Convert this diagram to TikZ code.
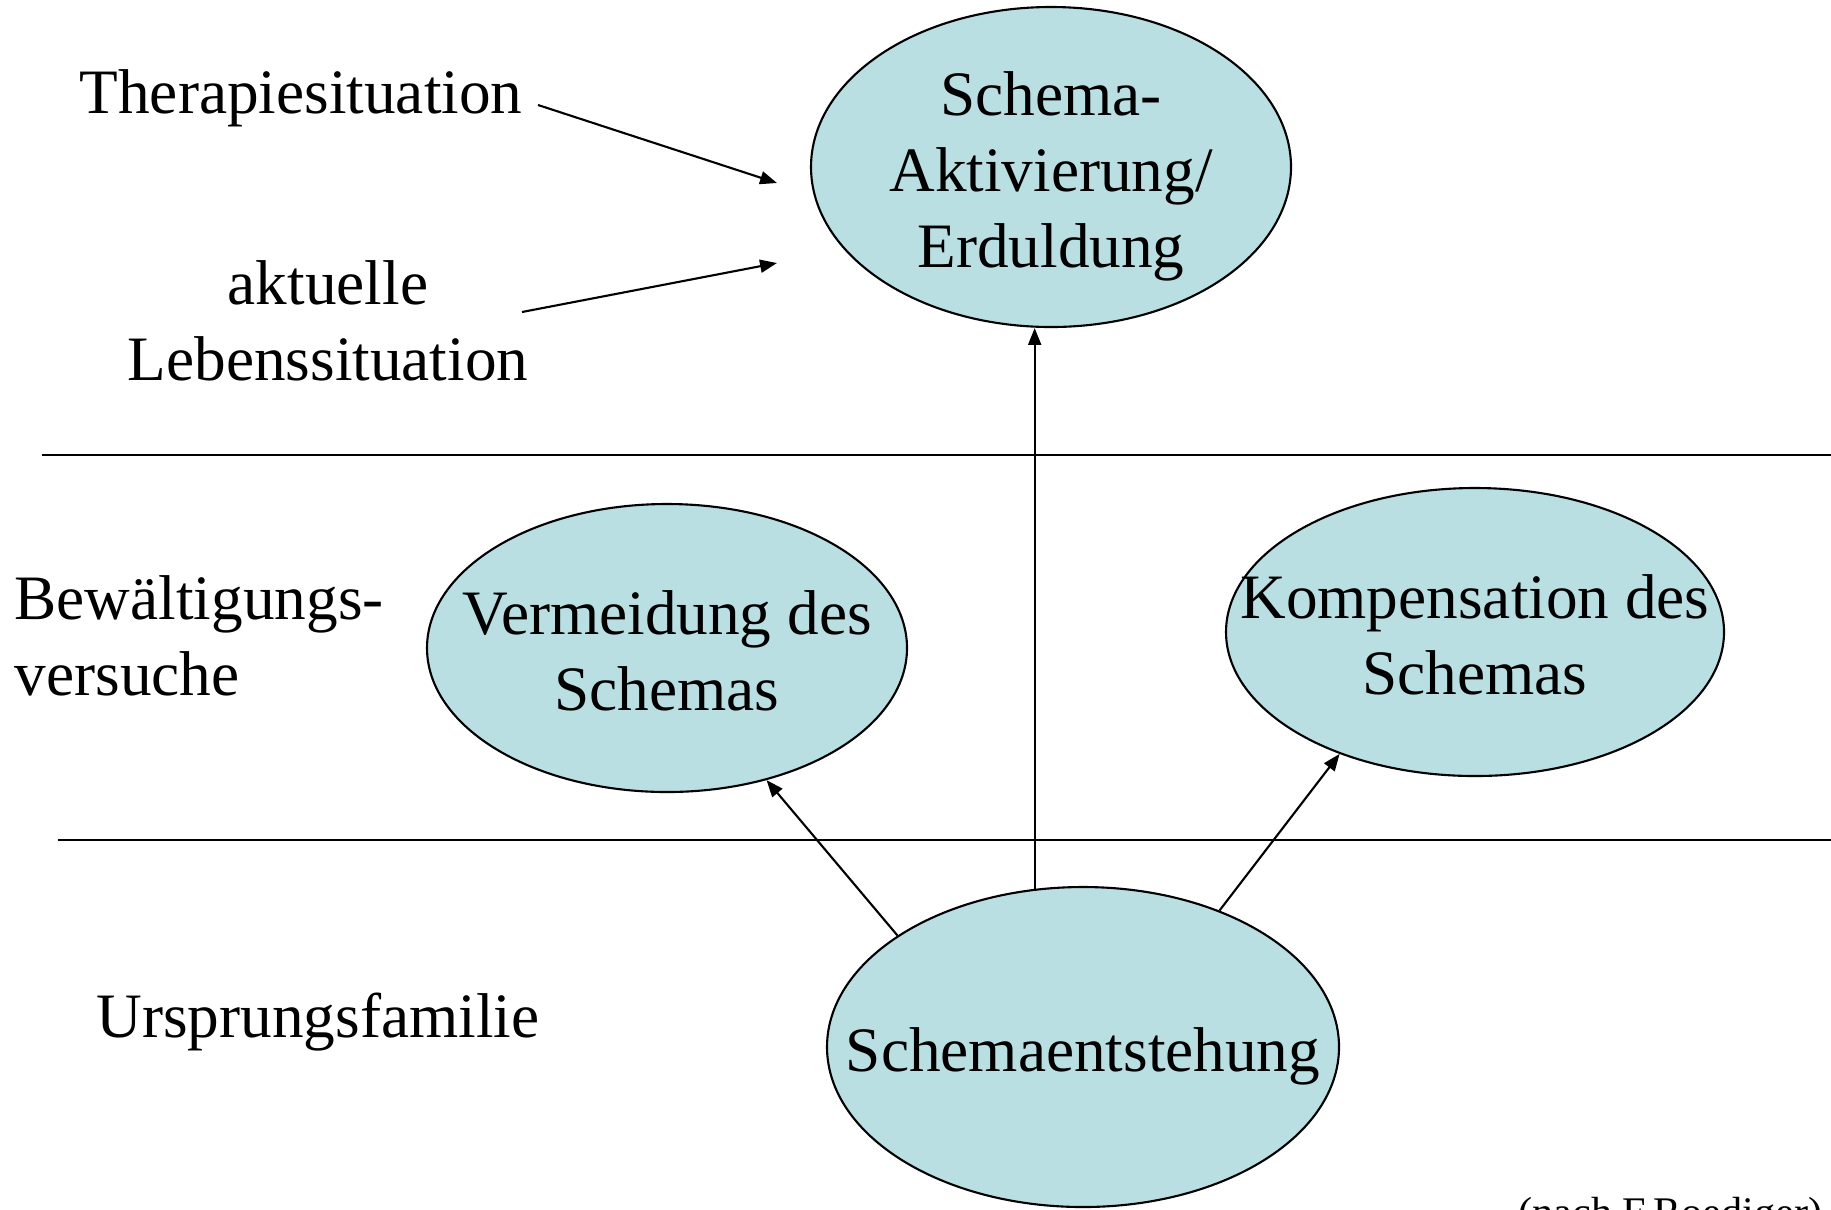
\documentclass[tikz,border=0pt]{standalone}
\usepackage{fontspec}
\setmainfont{Liberation Serif}
\usepackage{tikz}
\usetikzlibrary{shapes,arrows.meta,positioning,calc}
\definecolor{ovalfill}{RGB}{186,223,227}
\tikzset{
  oval/.style={ellipse, draw, line width=0.6pt, fill=ovalfill, inner sep=0pt},
  lbl/.style={inner sep=0pt},
  arr/.style={-{Triangle[length=4.8pt,width=3.7pt]}, line width=0.6pt},
}
\newcommand{\ovaltext}[1]{\raisebox{-7pt}[0pt][0pt]{\makebox[0pt]{\begin{tabular}{@{}c@{}}#1\end{tabular}}}}

\begin{document}
\begin{tikzpicture}[font=\fontsize{18}{21.6}\selectfont]
    \useasboundingbox (0,0) rectangle (18.31,-12.09);

    % Levels
    \draw[line width=0.6pt] (0.42,-4.55) -- (18.31,-4.55);
    \draw[line width=0.6pt] (0.58,-8.40) -- (18.31,-8.40);

    % Schemas
    \node[oval, minimum width=4.80cm, minimum height=3.20cm] (akt) at (10.51,-1.67) {\ovaltext{Schema-\\Aktivierung/\\Erduldung}};
    \node[oval, minimum width=4.80cm, minimum height=2.88cm] (verm) at (6.67,-6.48) {\ovaltext{Vermeidung des\\Schemas}};
    \node[oval, minimum width=4.98cm, minimum height=2.88cm] (komp) at (14.75,-6.32) {\ovaltext{Kompensation des\\Schemas}};
    \node[oval, minimum width=5.12cm, minimum height=3.20cm] (ent) at (10.83,-10.47) {\ovaltext{Schemaentstehung}};

    % Left labels
    \node[lbl, anchor=base] (therapie) at (3.01,-1.13) {Therapiesituation};
    \node[lbl, align=center] (leben) at (3.28,-3.21) {aktuelle\\Lebenssituation};
    \node[lbl, align=left, anchor=west] (bewaelt) at (0.14,-6.36) {Bewältigungs-\\versuche};
    \node[lbl, anchor=base] (ursprung) at (3.18,-10.37) {Ursprungsfamilie};
    \node[lbl, anchor=base west, font=\fontsize{12}{14.4}\selectfont] (quelle) at (15.18,-12.26) {(nach F.Roediger)};

    % Arrows
    \draw[arr] ($(therapie.base east)+(0.15,0.08)$) -- ($(akt.west)+(-0.33,-0.16)$);
    \draw[arr] ($(leben.east)+(-0.07,0.09)$) -- ($(akt.west)+(-0.33,-0.96)$);
    \draw[arr] (ent.107) -- (ent.107 |- akt.south);
    \draw[arr] (ent.149) -- (verm.307);
    \draw[arr] (ent.45) -- (komp.222);
\end{tikzpicture}
\end{document}
